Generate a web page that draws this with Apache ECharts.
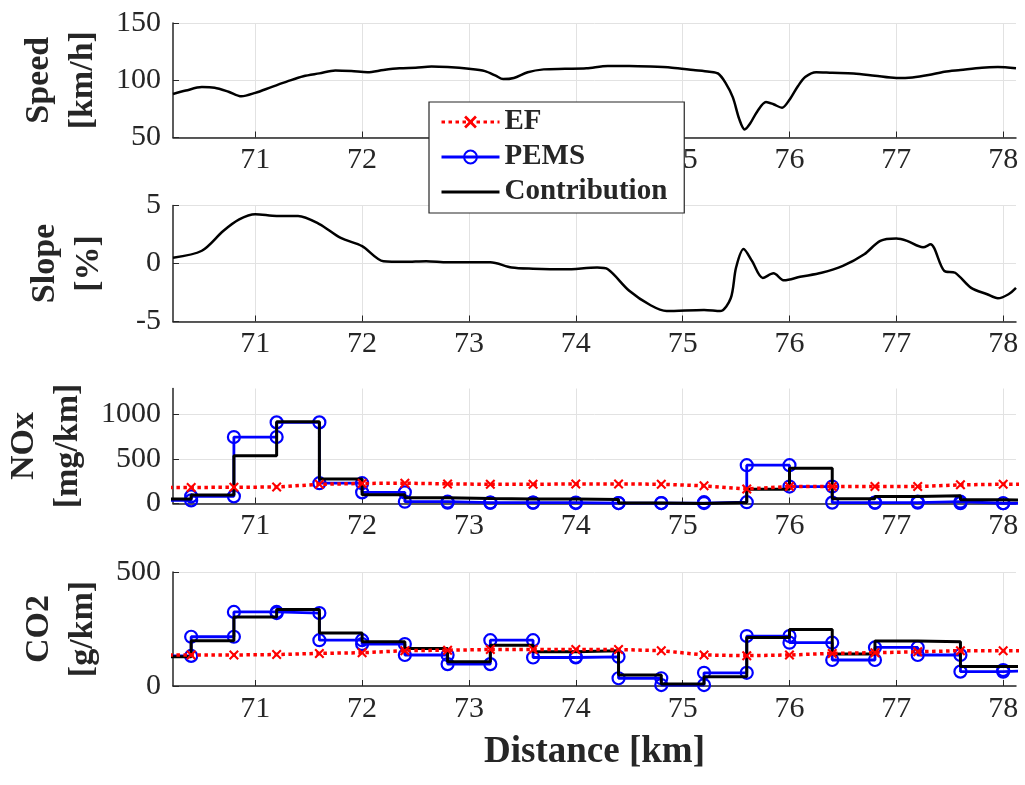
<!DOCTYPE html>
<html><head><meta charset="utf-8">
<script src="https://cdn.jsdelivr.net/npm/echarts@6/dist/echarts.min.js"></script>
<style>html,body{margin:0;padding:0;background:#fff}#c{width:1025px;height:785px}</style>
</head><body><div id="c"></div><script>
// ---- data ----
const xTicks = [71, 72, 73, 74, 75, 76, 77, 78];

const speedKm  = [70.23,70.35,70.5,70.62,70.75,70.87,71.0,71.15,71.3,71.45,71.6,71.75,71.9,72.05,72.2,72.35,72.5,72.65,72.8,73.0,73.15,73.25,73.32,73.42,73.55,73.7,73.9,74.1,74.3,74.5,74.7,74.9,75.1,75.25,75.33,75.4,75.47,75.53,75.58,75.63,75.7,75.78,75.85,75.93,76.0,76.08,76.15,76.25,76.4,76.6,76.8,77.0,77.15,77.3,77.45,77.6,77.8,77.95,78.12];
const speedKmh = [88,91,94,93.5,90,86,89,94,99,103.5,106,108.5,108,107,109,110.5,111,112,111.5,110,108,104,101,102,107,109.5,110,110.5,112.5,112.5,112,111,109,107.5,106,98,85,66,57,62,73,81,79,76,83,95,103,107,106.5,106,104,102,102.5,104.5,107.5,109,111,111.5,110.5];

const slopeKm  = [70.23,70.5,70.7,70.85,71.0,71.2,71.4,71.6,71.8,72.0,72.2,72.4,72.6,72.8,73.0,73.2,73.4,73.6,73.9,74.2,74.3,74.5,74.7,74.85,75.2,75.35,75.45,75.5,75.57,75.65,75.75,75.85,75.95,76.1,76.3,76.5,76.7,76.85,77.0,77.1,77.25,77.32,77.45,77.55,77.7,77.85,77.95,78.05,78.12];
const slopePct = [0.5,1.1,2.8,3.8,4.25,4.1,4.1,3.4,2.2,1.5,0.2,0.15,0.2,0.1,0.1,0.1,-0.35,-0.45,-0.5,-0.35,-0.5,-2.35,-3.6,-4.1,-4.0,-4.1,-3.0,-0.35,1.25,0.2,-1.25,-0.85,-1.45,-1.15,-0.8,-0.2,0.8,1.95,2.15,1.95,1.4,1.65,-0.65,-0.8,-2.1,-2.65,-3.0,-2.65,-2.1];

// segment boundaries (km); segments lie between consecutive boundaries
const segBounds = [70.0,70.4,70.8,71.2,71.6,72.0,72.4,72.8,73.2,73.6,74.0,74.4,74.8,75.2,75.6,76.0,76.4,76.8,77.2,77.6,78.0,78.4];

// NOx [mg/km]
const noxPems    = [35,80,745,910,228,125,20,10,10,10,5,5,5,15,430,190,10,10,20,3,3];
const noxContrib = [50,95,535,918,276,97,65,55,50,50,45,5,0,10,160,395,52,78,86,42,34];
const noxEF      = [180,180,182,185,215,225,228,220,215,215,220,220,216,198,164,190,190,190,190,209,216,216];

// CO2 [g/km]
const co2Pems    = [132,216,325,320,201,184,136,96,201,125,128,34,4,58,219,190,114,169,136,63,70];
const co2Contrib = [128,198,303,335,233,194,165,106,179,150,155,48,9,41,213,248,140,197,194,85,85];
const co2EF      = [136,136,136,138,143,146,155,157,160,160,160,160,155,136,133,136,143,146,150,155,155,155];

// ---- helpers ----
const FONT = 'Liberation Serif';
const TXT = '#262626';
function pairs(xs, ys) { return xs.map((x, i) => [x, ys[i]]); }
function steps(vals) {
  const out = [];
  vals.forEach((v, i) => { out.push([segBounds[i], v]); out.push([segBounds[i + 1], v]); });
  return out;
}
const X_SYMBOL = 'path://M0,1.5L1.5,0L5,3.5L8.5,0L10,1.5L6.5,5L10,8.5L8.5,10L5,6.5L1.5,10L0,8.5L3.5,5Z';

const gridTops = [23, 205.5, 388.5, 572];
const gridHeights = [114.5, 116, 115, 114];

function xAxis(i) {
  const a = {
    type: 'value', gridIndex: i, min: 70.23, max: 78.12,
    axisLine: { show: true, onZero: false, lineStyle: { color: TXT, width: 1.5 } },
    axisTick: { show: true, inside: true, length: 6, customValues: xTicks, lineStyle: { color: TXT } },
    axisLabel: { customValues: xTicks, fontFamily: FONT, fontSize: 30, color: TXT, margin: 8 },
    splitLine: { show: true, lineStyle: { color: '#e2e2e2', width: 1 } }
  };
  if (i === 3) {
    a.name = 'Distance [km]';
    a.nameLocation = 'middle';
    a.nameGap = 48;
    a.nameTextStyle = { fontFamily: FONT, fontSize: 37, fontWeight: 'bold', color: TXT };
  }
  return a;
}
function yAxis(i, name, gap, extra) {
  return Object.assign({
    type: 'value', gridIndex: i, name: name, nameLocation: 'middle', nameRotate: 90, nameGap: gap,
    nameTextStyle: { fontFamily: FONT, fontSize: 34, fontWeight: 'bold', color: TXT, lineHeight: 44 },
    axisLine: { show: true, lineStyle: { color: TXT, width: 1.5 } },
    axisTick: { show: true, inside: true, length: 6, lineStyle: { color: TXT } },
    axisLabel: { fontFamily: FONT, fontSize: 30, color: TXT, margin: 12, formatter: v => String(v) },
    splitLine: { show: true, lineStyle: { color: '#e2e2e2', width: 1 } }
  }, extra);
}

const efStyle = (xi, data) => ({
  name: 'EF', type: 'line', xAxisIndex: xi, yAxisIndex: xi, data: data, z: 5,
  symbol: X_SYMBOL, symbolSize: 10, itemStyle: { color: '#ff0000' },
  lineStyle: { color: '#ff0000', width: 3.5, type: [3.5, 3.5] }
});
const pemsStyle = (xi, data) => ({
  name: 'PEMS', type: 'line', xAxisIndex: xi, yAxisIndex: xi, data: data, z: 3,
  symbol: 'circle', symbolSize: 12,
  itemStyle: { color: 'rgba(255,255,255,0)', borderColor: '#0000ff', borderWidth: 2.2 },
  lineStyle: { color: '#0000ff', width: 2.8 }
});
const contribStyle = (xi, data) => ({
  name: 'Contribution', type: 'line', xAxisIndex: xi, yAxisIndex: xi, data: data, z: 4,
  symbol: 'none', itemStyle: { color: '#000' },
  lineStyle: { color: '#000', width: 3 }
});

const option = {
  animation: false,
  backgroundColor: '#fff',
  grid: gridTops.map((t, i) => ({ left: 173, right: 9, top: t, height: gridHeights[i], outerBoundsMode: 'none', containLabel: false })),
  xAxis: [0, 1, 2, 3].map(xAxis),
  yAxis: [
    yAxis(0, 'Speed\n[km/h]', 62, { min: 50, max: 150, interval: 50 }),
    yAxis(1, 'Slope\n[%]', 62, { min: -5, max: 5, interval: 5 }),
    yAxis(2, 'NOx\n[mg/km]', 80, { min: 0, max: 1290,
      axisTick: { show: true, inside: true, length: 6, customValues: [0, 500, 1000], lineStyle: { color: TXT } },
      axisLabel: { customValues: [0, 500, 1000], fontFamily: FONT, fontSize: 30, color: TXT, margin: 12, formatter: v => String(v) } }),
    yAxis(3, 'CO2\n[g/km]', 62, { min: 0, max: 500, interval: 500 })
  ],
  legend: {
    orient: 'vertical', left: 429, top: 102,
    data: ['EF', 'PEMS', { name: 'Contribution', itemStyle: { opacity: 0 } }],
    backgroundColor: '#fff', borderColor: TXT, borderWidth: 1.2,
    padding: [5, 17, 6, 11], itemWidth: 58, itemHeight: 16, itemGap: 5,
    lineStyle: { width: 3 },
    textStyle: { fontFamily: FONT, fontSize: 29, fontWeight: 'bold', color: TXT, lineHeight: 30 },
    z: 20
  },
  series: [
    { name: 'Speed', type: 'line', xAxisIndex: 0, yAxisIndex: 0, data: pairs(speedKm, speedKmh),
      symbol: 'none', smooth: 0.3, lineStyle: { color: '#000', width: 2.5 } },
    { name: 'Slope', type: 'line', xAxisIndex: 1, yAxisIndex: 1, data: pairs(slopeKm, slopePct),
      symbol: 'none', smooth: 0.3, lineStyle: { color: '#000', width: 2.5 } },
    pemsStyle(2, steps(noxPems)),
    contribStyle(2, steps(noxContrib)),
    efStyle(2, pairs(segBounds, noxEF)),
    pemsStyle(3, steps(co2Pems)),
    contribStyle(3, steps(co2Contrib)),
    efStyle(3, pairs(segBounds, co2EF))
  ]
};
const chart = echarts.init(document.getElementById('c'), null, { renderer: 'canvas' });
chart.setOption(option);
</script></body></html>
